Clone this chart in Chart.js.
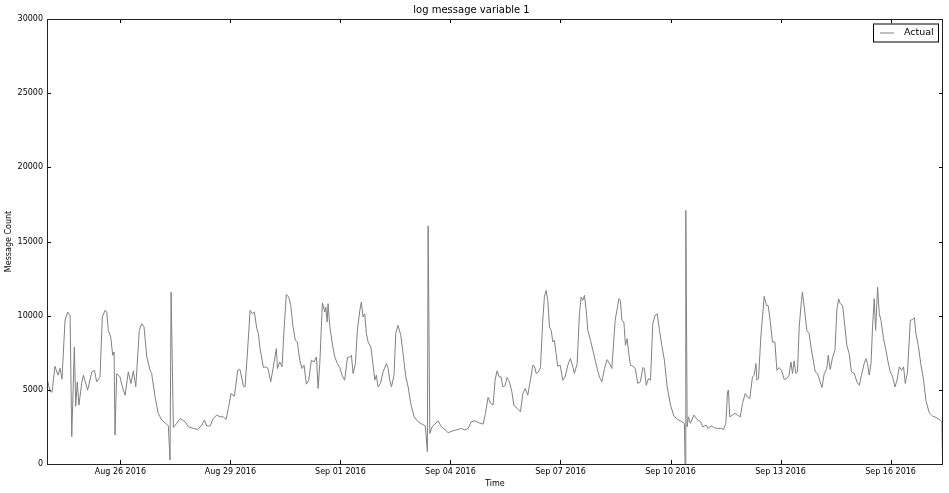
<!DOCTYPE html>
<html>
<head>
<meta charset="utf-8">
<title>log message variable 1</title>
<script src="https://cdn.jsdelivr.net/npm/chart.js@4.4.1/dist/chart.umd.min.js"></script>
<style>
  html, body { margin: 0; padding: 0; background: #fff; }
  canvas { display: block; }
</style>
</head>
<body>
<canvas id="logChart" width="949" height="493"></canvas>
<script>
// hours since Aug 24 2016 00:00
const hours = [
  0, 2.0, 3.3, 5.2, 7.2, 8.5, 9.8, 11.8, 13.5, 15.1, 16.2, 17.9, 18.8, 19.8, 20.9, 22.7, 23.8, 26.6, 29.3, 31.0,
  32.5, 34.7, 36.2, 38.0, 39.1, 40.1, 41.7, 43.0, 43.9, 44.5, 45.6, 47.8, 49.3, 51.1, 53.2, 55.0, 56.5, 58.1, 60.4, 62.0,
  63.5, 65.3, 67.4, 68.5, 70.7, 72.8, 75.1, 77.2, 79.4, 80.5, 81.2, 82.7, 84.9, 87.1, 90.3, 92.5, 95.8, 98.6, 101.3, 103.0,
  104.5, 106.7, 108.8, 111.1, 113.2, 115.4, 117.2, 118.7, 120.4, 122.6, 124.8, 126.3, 128.5, 129.6, 131.4, 132.9, 134.4, 135.7, 137.3, 138.3,
  139.4, 141.6, 143.1, 144.6, 146.4, 147.9, 150.1, 150.8, 152.3, 153.8, 155.1, 156.6, 158.2, 159.5, 161.0, 162.5, 163.8, 165.4, 166.9, 168.2,
  169.7, 171.3, 173.0, 174.8, 176.3, 177.4, 178.5, 180.2, 181.8, 182.4, 183.3, 183.9, 185.0, 186.5, 188.3, 190.0, 191.6, 193.1, 194.8, 196.6,
  198.1, 199.2, 200.3, 201.8, 203.1, 204.7, 205.7, 206.8, 207.9, 209.0, 210.1, 211.9, 213.4, 214.5, 215.5, 216.6, 218.2, 219.9, 222.1, 223.2,
  224.3, 225.4, 227.1, 228.2, 229.7, 231.5, 233.0, 234.8, 236.3, 238.0, 240.2, 242.8, 245.4, 247.6, 248.9, 249.4, 250.5, 252.0, 253.8, 255.9,
  258.1, 260.3, 262.5, 265.7, 269.0, 271.2, 273.4, 275.6, 277.7, 279.9, 282.6, 285.4, 286.9, 288.6, 290.4, 291.9, 293.2, 294.5, 296.0, 297.1,
  298.3, 299.8, 301.1, 302.6, 304.2, 305.5, 307.6, 309.8, 311.4, 312.9, 314.6, 316.3, 317.9, 319.0, 320.1, 321.6, 322.9, 324.4, 325.5, 326.6,
  327.7, 328.8, 329.9, 331.0, 332.0, 333.1, 334.2, 335.8, 337.5, 339.0, 340.8, 342.5, 344.1, 345.1, 346.9, 348.4, 349.5, 350.6, 351.7, 352.8,
  353.9, 355.6, 357.2, 358.7, 360.0, 361.5, 363.1, 364.8, 366.5, 368.0, 369.6, 371.8, 373.1, 374.2, 375.2, 376.2, 377.5, 378.5, 379.6, 380.7,
  381.8, 383.4, 384.9, 386.6, 388.3, 389.9, 390.9, 392.1, 393.6, 394.9, 396.4, 397.9, 399.3, 400.8, 402.3, 404.0, 405.8, 408.0, 410.2, 412.8,
  415.4, 417.1, 417.5, 418.0, 418.9, 419.7, 421.0, 423.3, 425.4, 427.6, 429.1, 431.3, 432.4, 434.6, 436.8, 438.7, 440.9, 442.7, 444.2, 445.3,
  445.9, 446.8, 448.5, 450.1, 451.8, 453.6, 455.1, 456.9, 458.4, 459.9, 461.6, 462.7, 463.9, 464.5, 465.6, 467.1, 469.3, 470.8, 471.9, 473.2,
  474.7, 476.3, 477.6, 479.1, 480.6, 482.4, 484.1, 485.6, 486.8, 487.8, 488.9, 490.0, 491.1, 492.2, 493.7, 494.3, 495.5, 497.2, 498.7, 499.9,
  501.4, 502.7, 504.2, 505.9, 507.1, 508.6, 510.3, 511.2, 512.5, 514.0, 515.6, 516.9, 518.0, 519.0, 520.6, 522.1, 523.4, 524.9, 526.4, 528.2,
  530.0, 531.5, 533.0, 534.7, 535.9, 536.9, 538.0, 539.2, 540.2, 541.3, 542.2, 543.5, 544.6, 545.7, 547.4, 549.0, 550.1, 551.8, 553.3, 554.9,
  556.2, 557.7, 559.2, 560.5, 561.6, 563.1, 564.9, 566.4, 567.5, 568.6, 570.1, 571.9, 573.6, 575.1, 577.3, 579.5, 581.7, 584.5, 585.6, 586.0
];

const messageCount = [
  5800, 4900, 4840, 6590, 5990, 6460, 5720, 9690, 10240, 10020, 1840, 7890, 3900, 5540, 3970, 5450, 5990, 4980, 6210, 6320,
  5540, 5870, 9910, 10360, 10240, 9010, 8560, 7330, 7550, 1950, 6100, 5870, 5200, 4640, 6210, 5430, 6280, 5200, 9010, 9460,
  9240, 7220, 6320, 6100, 4530, 3410, 2960, 2780, 2580, 270, 11590, 2470, 2740, 3070, 2850, 2510, 2400, 2330, 2620, 2960,
  2560, 2560, 3070, 3300, 3180, 3180, 3000, 3750, 4750, 4570, 6320, 6370, 5250, 5200, 7890, 10360, 10130, 10240, 9130, 8790,
  7780, 6500, 6550, 6440, 5540, 6440, 7780, 6440, 6880, 6550, 9010, 11430, 11250, 10690, 9240, 8340, 8230, 7000, 6440, 6660,
  5380, 5650, 7000, 6880, 7220, 5090, 6770, 10850, 10240, 10580, 9570, 10810, 9350, 8230, 7220, 6770, 6500, 5990, 5650, 7180,
  7220, 7330, 6100, 6770, 9010, 10360, 10920, 9910, 10130, 8790, 8230, 7890, 6660, 5650, 5990, 5200, 5430, 6210, 6770, 6440,
  5650, 5200, 5990, 8790, 9350, 8680, 7440, 5870, 5200, 4080, 3180, 2850, 2690, 2560, 830, 16050, 2060, 2510, 2690, 2910,
  2510, 2330, 2110, 2240, 2330, 2400, 2290, 2400, 2850, 2910, 2780, 2690, 3410, 4490, 4080, 3970, 5650, 6280, 5870, 5870,
  5200, 5310, 5830, 5540, 4860, 3970, 3750, 3520, 4750, 5090, 4640, 5650, 6660, 6590, 6100, 6210, 6500, 9690, 11300, 11700,
  11030, 9240, 9010, 8230, 8340, 7440, 6590, 6660, 5650, 5870, 6660, 7110, 6550, 6100, 6770, 10130, 11250, 11030, 11370, 10360,
  9010, 8340, 7670, 7000, 6440, 5870, 5540, 6440, 7040, 6810, 6440, 9690, 10470, 11140, 11030, 9690, 9570, 8000, 8450, 7440,
  6660, 6590, 6440, 5430, 5540, 6500, 6440, 5310, 5760, 5650, 9460, 10020, 10130, 9010, 8000, 7000, 5200, 3970, 3230, 3000,
  2850, 2740, 0, 17100, 2510, 3180, 2740, 3300, 3000, 2850, 2510, 2620, 2400, 2560, 2440, 2400, 2400, 2330, 2740, 4860,
  4980, 3180, 3300, 3410, 3300, 3180, 4080, 4750, 4490, 4420, 5870, 5990, 6770, 5650, 5760, 8560, 11300, 10690, 10690, 9690,
  8230, 8230, 6320, 6500, 6320, 5700, 5760, 5990, 6880, 6100, 6950, 6100, 6210, 9240, 11030, 11590, 10580, 9010, 8790, 7890,
  7000, 6210, 6100, 5540, 5160, 6100, 6440, 7330, 6370, 7180, 7670, 10470, 11140, 10810, 10690, 9240, 8000, 7440, 6210, 6100,
  5540, 5310, 5990, 6770, 7110, 6770, 5990, 6770, 9240, 11140, 9010, 11930, 10130, 9690, 8450, 7670, 7000, 6210, 5870, 5200,
  5650, 6550, 6320, 6550, 5430, 6210, 9690, 9730, 9870, 8790, 8000, 6660, 5650, 4300, 3450, 3230, 3140, 2960, 2850, 0
];

const tickHours = [48, 120, 192, 264, 336, 408, 480, 552];
const tickLabels = ['Aug 26 2016', 'Aug 29 2016', 'Sep 01 2016', 'Sep 04 2016',
                    'Sep 07 2016', 'Sep 10 2016', 'Sep 13 2016', 'Sep 16 2016'];
const yTicks = [0, 5000, 10000, 15000, 20000, 25000, 30000];

const FONT = 'DejaVu Sans';
const LINE_COLOR = '#808080';

let points = hours.map((h, i) => ({ x: h, y: messageCount[i] }));

// frame on all four sides, ticks pointing inward (matplotlib classic look), legend box
const frameAndLegend = {
    id: 'frameAndLegend',
    afterDraw(chart) {
        let ctx = chart.ctx;
        let a = chart.chartArea;
        let xs = chart.scales.x, ys = chart.scales.y;
        ctx.save();
        ctx.strokeStyle = '#000';
        ctx.lineWidth = 1;
        ctx.beginPath();
        xs.ticks.forEach(t => {
            let px = Math.round(xs.getPixelForValue(t.value)) + 0.5;
            ctx.moveTo(px, a.bottom); ctx.lineTo(px, a.bottom - 4);
            ctx.moveTo(px, a.top); ctx.lineTo(px, a.top + 4);
        });
        ys.ticks.forEach(t => {
            let py = Math.round(ys.getPixelForValue(t.value)) + 0.5;
            ctx.moveTo(a.left, py); ctx.lineTo(a.left + 4, py);
            ctx.moveTo(a.right, py); ctx.lineTo(a.right - 4, py);
        });
        ctx.stroke();
        ctx.strokeStyle = '#222';
        ctx.strokeRect(Math.round(a.left) + 0.5, Math.round(a.top) + 0.5,
                       Math.round(a.right - a.left) - 1, Math.round(a.bottom - a.top));

        // legend
        let lx = a.right - 70, ly = a.top + 4.5;
        ctx.fillStyle = '#fff';
        ctx.fillRect(lx, ly, 66, 18);
        ctx.strokeStyle = '#000';
        ctx.strokeRect(lx + 0.5, ly + 0.5, 65, 18);
        ctx.strokeStyle = LINE_COLOR;
        ctx.beginPath();
        ctx.moveTo(lx + 7, ly + 9.5); ctx.lineTo(lx + 21, ly + 9.5);
        ctx.stroke();
        ctx.fillStyle = '#000';
        ctx.font = '9.5px "' + FONT + '"';
        ctx.textBaseline = 'middle';
        ctx.textAlign = 'left';
        ctx.fillText(chart.data.datasets[0].label, lx + 31, ly + 9.5);
        ctx.restore();
    }
};

let ctx = document.getElementById('logChart').getContext('2d');
new Chart(ctx, {
    type: 'line',
    data: {
        datasets: [{
            label: 'Actual',
            data: points,
            borderColor: LINE_COLOR,
            borderWidth: 1,
            pointRadius: 0,
            tension: 0,
            fill: false
        }]
    },
    options: {
        responsive: false,
        animation: false,
        devicePixelRatio: 1,
        layout: { padding: { left: 0, right: 6, top: 0, bottom: 0 } },
        plugins: {
            legend: { display: false },
            tooltip: { enabled: false },
            title: {
                display: true,
                text: 'log message variable 1',
                color: '#000',
                font: { family: FONT, size: 10, weight: 'normal' },
                padding: { top: 4, bottom: 3 }
            }
        },
        scales: {
            x: {
                type: 'linear',
                min: 0,
                max: 586.3,
                grid: { display: false, drawTicks: false },
                border: { display: false },
                afterBuildTicks: scale => {
                    scale.ticks = tickHours.map(v => ({ value: v }));
                },
                afterFit: scale => { scale.height = 29; },
                ticks: {
                    color: '#000',
                    padding: 3,
                    maxRotation: 0,
                    autoSkip: false,
                    font: { family: FONT, size: 8 },
                    callback: value => tickLabels[tickHours.indexOf(value)]
                },
                title: {
                    display: true,
                    text: 'Time',
                    color: '#000',
                    font: { family: FONT, size: 8 },
                    padding: { top: 2, bottom: 4 }
                }
            },
            y: {
                min: 0,
                max: 30000,
                grid: { display: false, drawTicks: false },
                border: { display: false },
                afterBuildTicks: scale => {
                    scale.ticks = yTicks.map(v => ({ value: v }));
                },
                afterFit: scale => { scale.width = 47; },
                ticks: {
                    color: '#000',
                    padding: 4,
                    font: { family: FONT, size: 8 },
                    callback: value => String(value)
                },
                title: {
                    display: true,
                    text: 'Message Count',
                    color: '#000',
                    font: { family: FONT, size: 8 },
                    padding: { top: 4, bottom: 0 }
                }
            }
        }
    },
    plugins: [frameAndLegend]
});
</script>
</body>
</html>
